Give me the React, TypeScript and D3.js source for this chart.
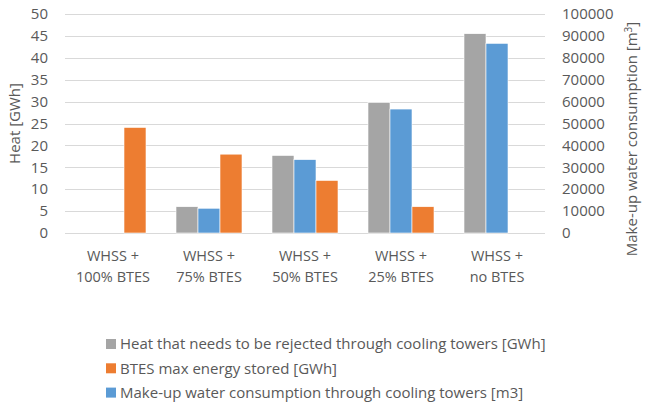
import React from "react";
import * as d3 from "d3";

const categories = [
  ["WHSS +", "100% BTES"],
  ["WHSS +", "75% BTES"],
  ["WHSS +", "50% BTES"],
  ["WHSS +", "25% BTES"],
  ["WHSS +", "no BTES"],
];
const heatRejected = [0, 6.0, 17.7, 29.8, 45.5];
const btesStored = [24.1, 18.0, 12.0, 6.0, 0];
const waterConsumption = [0, 11300, 33500, 56600, 86600];
const leftTicks = [0, 5, 10, 15, 20, 25, 30, 35, 40, 45, 50];
const rightTicks = [0, 10000, 20000, 30000, 40000, 50000, 60000, 70000, 80000, 90000, 100000];

const legendItems = [
  { label: "Heat that needs to be rejected through cooling towers [GWh]", color: "#A5A5A5" },
  { label: "BTES max energy stored [GWh]", color: "#ED7D31" },
  { label: "Make-up water consumption through cooling towers [m3]", color: "#5B9BD5" },
];

const App: React.FC = () => {
  const width = 645;
  const height = 402;
  const margin = { top: 14, right: 100, bottom: 169, left: 65 };
  const plotW = width - margin.left - margin.right;
  const plotH = height - margin.top - margin.bottom;
  const font = "'Open Sans', sans-serif";
  const textColor = "#595959";

  const idx = categories.map((_, i) => String(i));
  const x = d3.scaleBand().domain(idx).range([0, plotW]).paddingInner(0).paddingOuter(0);
  const slot = d3.scaleBand().domain(["heat", "water", "btes"]).range([15, x.bandwidth() - 15]);
  const yLeft = d3.scaleLinear().domain([0, 50]).range([plotH, 0]);
  const yRight = d3.scaleLinear().domain([0, 100000]).range([plotH, 0]);

  const series = [
    { key: "heat", values: heatRejected, scale: yLeft, color: "#A5A5A5" },
    { key: "water", values: waterConsumption, scale: yRight, color: "#5B9BD5" },
    { key: "btes", values: btesStored, scale: yLeft, color: "#ED7D31" },
  ];

  return (
    <svg
      width={width}
      height={height}
      style={{ position: "absolute", left: 0, top: 0, background: "#fff" }}
      fontFamily={font}
    >
      <g transform={`translate(${margin.left},${margin.top})`}>
        {/* gridlines */}
        {leftTicks.map((t) => (
          <line
            key={t}
            x1={0}
            x2={plotW}
            y1={Math.round(yLeft(t)) + 0.5}
            y2={Math.round(yLeft(t)) + 0.5}
            stroke="#D9D9D9"
            strokeWidth={1}
          />
        ))}
        {/* bars */}
        {series.map((s) =>
          s.values.map((v, i) =>
            v > 0 ? (
              <rect
                key={s.key + i}
                x={(x(String(i)) || 0) + (slot(s.key) || 0)}
                y={s.scale(v)}
                width={slot.bandwidth()}
                height={plotH - s.scale(v)}
                fill={s.color}
                stroke="#fff"
                strokeWidth={0.6}
              />
            ) : null
          )
        )}
        {/* left axis labels */}
        {leftTicks.map((t) => (
          <text
            key={t}
            x={-17}
            y={yLeft(t)}
            dy="0.35em"
            textAnchor="end"
            fontSize={15}
            fill={textColor}
          >
            {t}
          </text>
        ))}
        {/* right axis labels */}
        {rightTicks.map((t) => (
          <text
            key={t}
            x={plotW + 17}
            y={yRight(t)}
            dy="0.35em"
            textAnchor="start"
            fontSize={15}
            fill={textColor}
          >
            {t}
          </text>
        ))}
        {/* category labels */}
        {categories.map((c, i) => {
          const cx = (x(String(i)) || 0) + x.bandwidth() / 2;
          return (
            <text key={i} y={plotH + 28} textAnchor="middle" fontSize={14.5} fill={textColor}>
              <tspan x={cx}>{c[0]}</tspan>
              <tspan x={cx} dy={21}>
                {c[1]}
              </tspan>
            </text>
          );
        })}
      </g>
      {/* axis titles */}
      <text
        transform={`translate(20,${margin.top + plotH / 2}) rotate(-90)`}
        textAnchor="middle"
        fontSize={15}
        fill={textColor}
      >
        Heat [GWh]
      </text>
      <text
        transform={`translate(637,139) rotate(-90)`}
        textAnchor="middle"
        fontSize={15}
        fill={textColor}
      >
        Make-up water consumption [m<tspan dy={-5} fontSize={10}>3</tspan>
        <tspan dy={5}>]</tspan>
      </text>
      {/* legend */}
      {legendItems.map((l, i) => (
        <g key={l.label} transform={`translate(106,${344 + i * 24.3})`}>
          <rect x={0} y={-5} width={10} height={10} fill={l.color} />
          <text x={14} y={0} dy="0.35em" fontSize={15} fill={textColor}>
            {l.label}
          </text>
        </g>
      ))}
    </svg>
  );
};

export default App;
